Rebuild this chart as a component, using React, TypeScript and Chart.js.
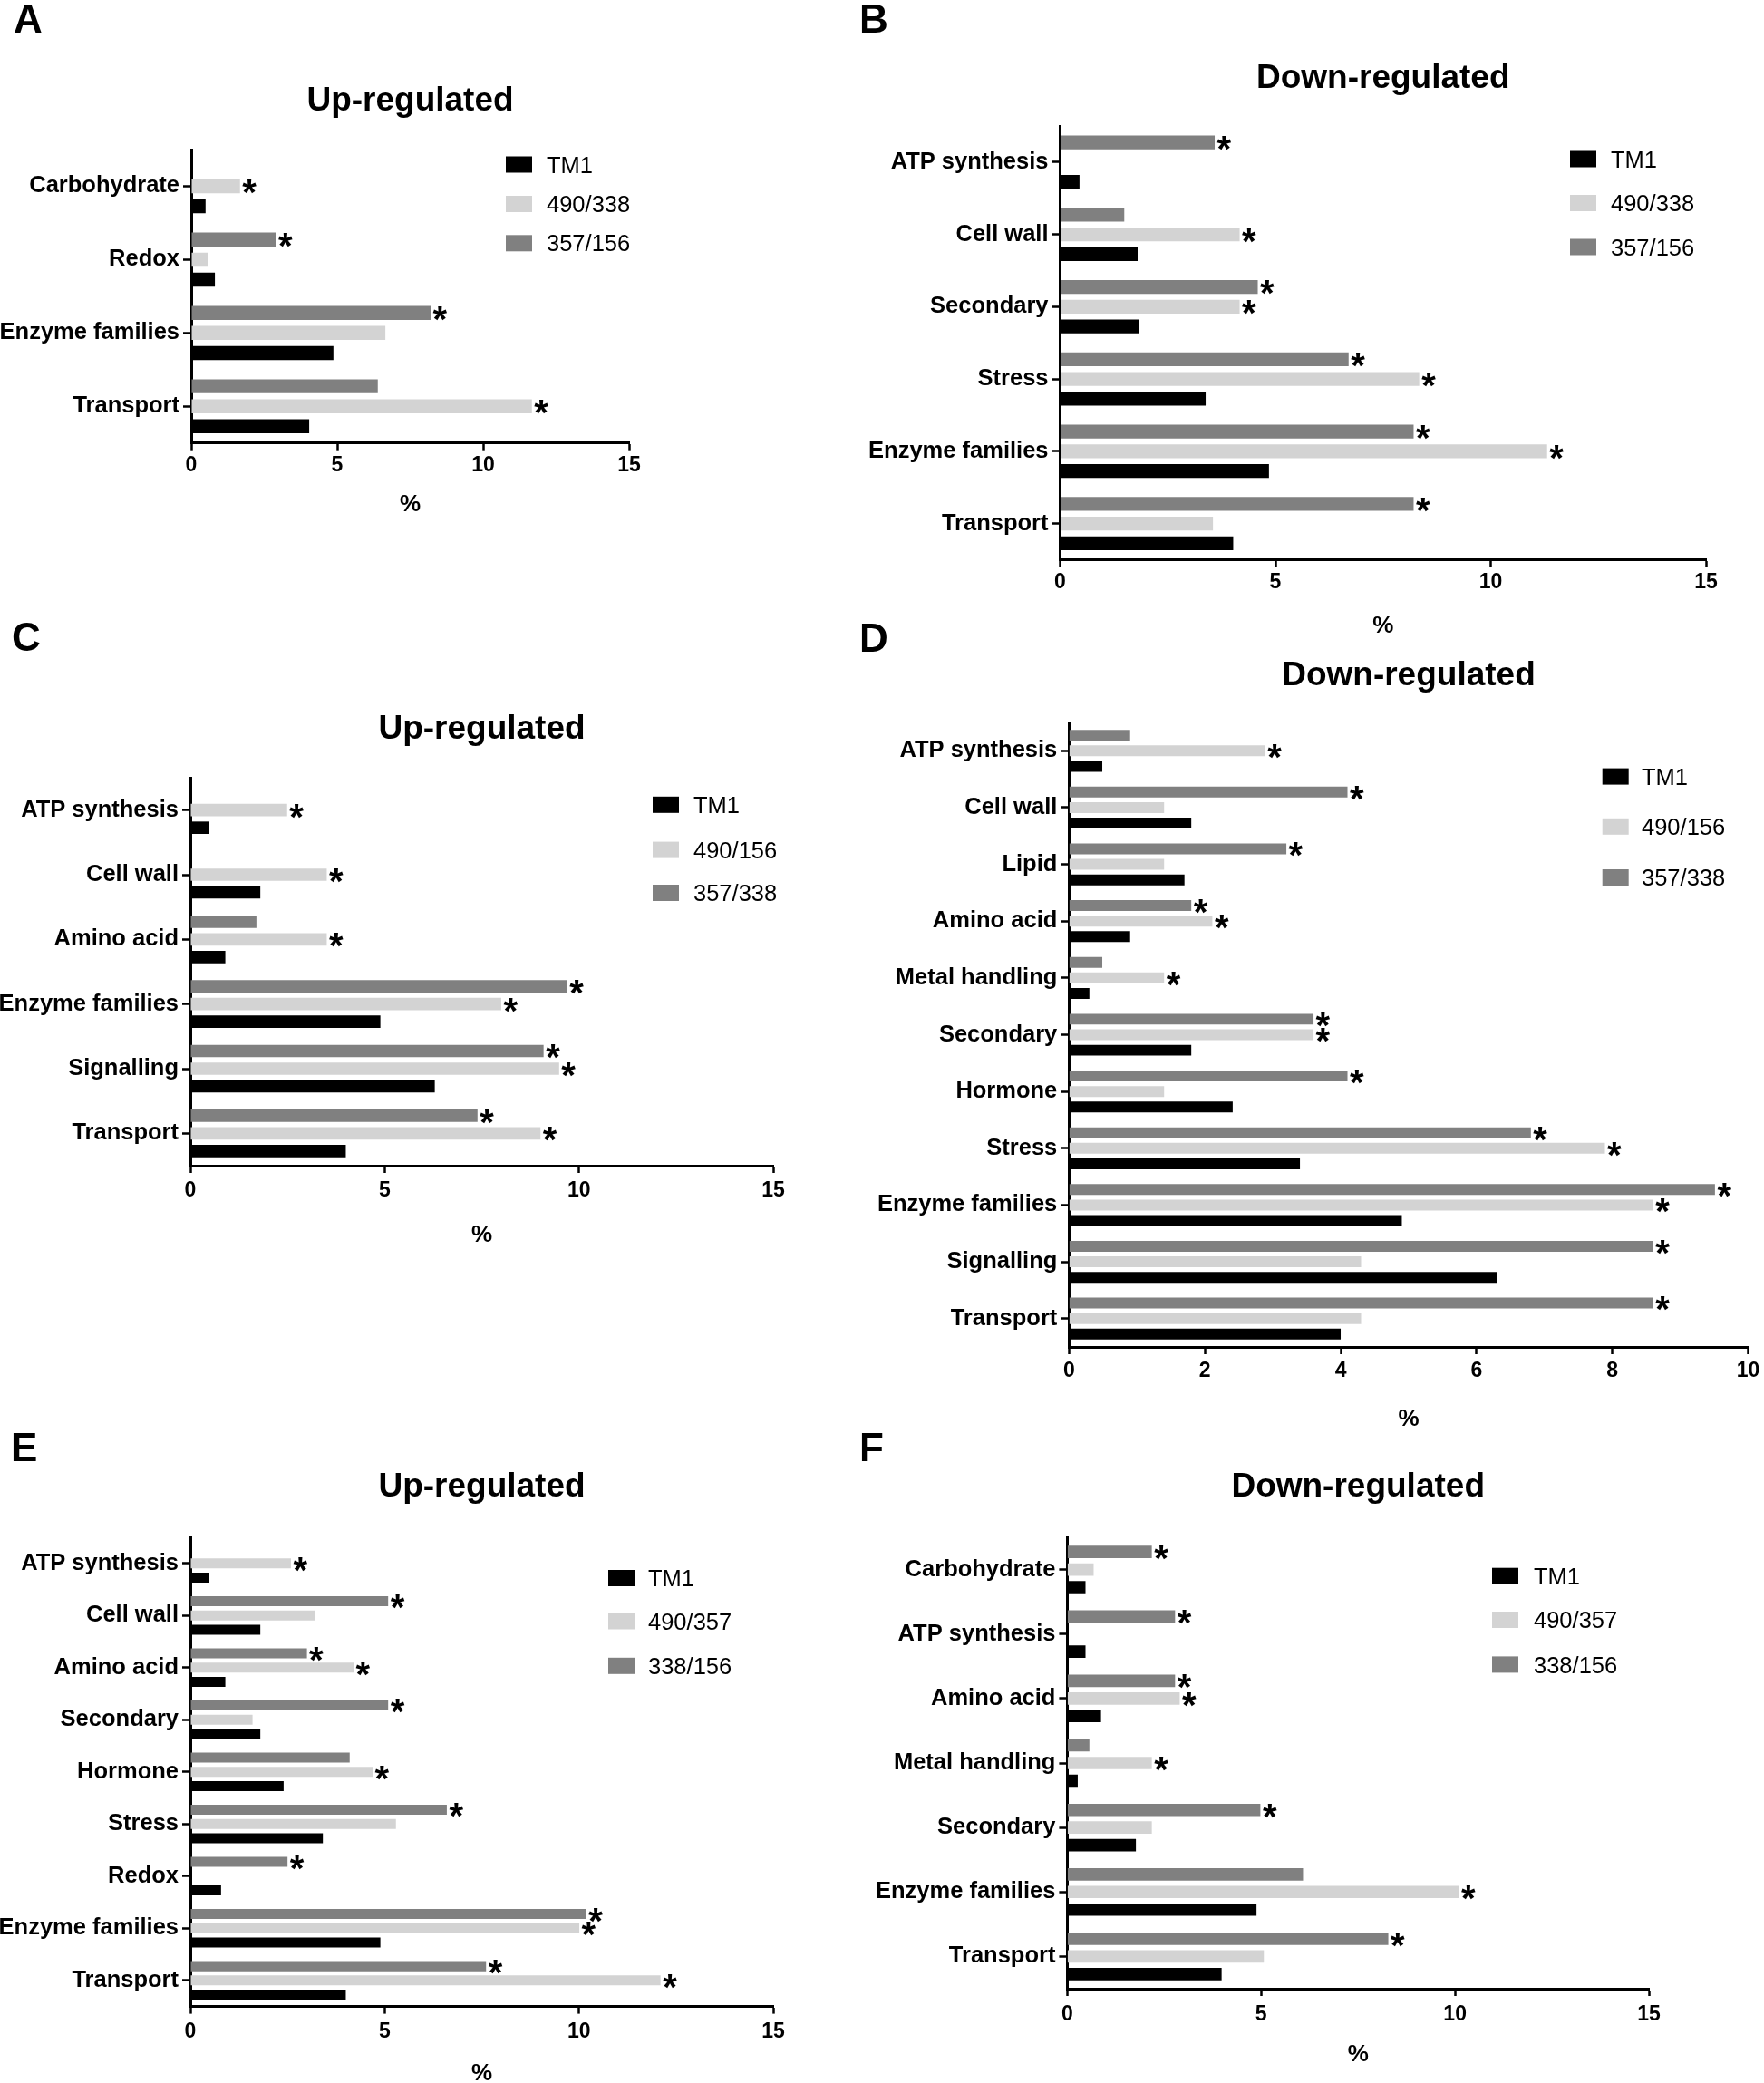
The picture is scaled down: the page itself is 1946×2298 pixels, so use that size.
import React, { useEffect, useRef } from 'react';
import { Chart, registerables } from 'chart.js';

Chart.register(...registerables);

const FONT = "'Liberation Sans', Arial, Helvetica, sans-serif";
const COLOR_TM1 = '#000000';
const COLOR_LIGHT = '#d3d3d3';
const COLOR_GREY = '#808080';

// ---------------- Panel A (Up-regulated) ----------------
const catsA = ['Carbohydrate', 'Redox', 'Enzyme families', 'Transport'];
const legendA = ['TM1', '490/338', '357/156'];
const tm1A = [0.49, 0.81, 4.87, 4.04];
const lightA = [1.67, 0.56, 6.65, 11.67];
const greyA = [null, 2.9, 8.2, 6.39];
const starLightA = [true, false, false, true];
const starGreyA = [false, true, true, false];

// ---------------- Panel B (Down-regulated) ----------------
const catsB = ['ATP synthesis', 'Cell wall', 'Secondary', 'Stress', 'Enzyme families', 'Transport'];
const legendB = ['TM1', '490/338', '357/156'];
const tm1B = [0.45, 1.8, 1.84, 3.38, 4.85, 4.02];
const lightB = [null, 4.17, 4.17, 8.34, 11.31, 3.55];
const greyB = [3.59, 1.49, 4.59, 6.7, 8.21, 8.21];
const starLightB = [false, true, true, true, true, false];
const starGreyB = [true, false, true, true, true, true];

// ---------------- Panel C (Up-regulated) ----------------
const catsC = ['ATP synthesis', 'Cell wall', 'Amino acid', 'Enzyme families', 'Signalling', 'Transport'];
const legendC = ['TM1', '490/156', '357/338'];
const tm1C = [0.49, 1.8, 0.9, 4.89, 6.29, 4.0];
const lightC = [2.49, 3.51, 3.51, 8.0, 9.49, 9.01];
const greyC = [null, null, 1.7, 9.7, 9.09, 7.39];
const starLightC = [true, true, true, true, true, true];
const starGreyC = [false, false, false, true, true, true];

// ---------------- Panel D (Down-regulated) ----------------
const catsD = ['ATP synthesis', 'Cell wall', 'Lipid', 'Amino acid', 'Metal handling', 'Secondary', 'Hormone', 'Stress', 'Enzyme families', 'Signalling', 'Transport'];
const legendD = ['TM1', '490/156', '357/338'];
const tm1D = [0.49, 1.8, 1.7, 0.9, 0.3, 1.8, 2.41, 3.4, 4.9, 6.3, 4.0];
const lightD = [2.89, 1.4, 1.4, 2.11, 1.4, 3.6, 1.4, 7.89, 8.6, 4.3, 4.3];
const greyD = [0.9, 4.1, 3.2, 1.8, 0.49, 3.6, 4.1, 6.8, 9.51, 8.6, 8.6];
const starLightD = [true, false, false, true, true, true, false, true, true, false, false];
const starGreyD = [false, true, true, true, false, true, true, true, true, true, true];

// ---------------- Panel E (Up-regulated) ----------------
const catsE = ['ATP synthesis', 'Cell wall', 'Amino acid', 'Secondary', 'Hormone', 'Stress', 'Redox', 'Enzyme families', 'Transport'];
const legendE = ['TM1', '490/357', '338/156'];
const tm1E = [0.49, 1.8, 0.9, 1.8, 2.4, 3.41, 0.79, 4.89, 4.0];
const lightE = [2.59, 3.2, 4.2, 1.6, 4.69, 5.29, null, 10.01, 12.1];
const greyE = [null, 5.09, 3.0, 5.09, 4.1, 6.6, 2.5, 10.19, 7.61];
const starLightE = [true, false, true, false, true, false, false, true, true];
const starGreyE = [false, true, true, true, false, true, true, true, true];

// ---------------- Panel F (Down-regulated) ----------------
const catsF = ['Carbohydrate', 'ATP synthesis', 'Amino acid', 'Metal handling', 'Secondary', 'Enzyme families', 'Transport'];
const legendF = ['TM1', '490/357', '338/156'];
const tm1F = [0.47, 0.47, 0.87, 0.27, 1.77, 4.88, 3.98];
const lightF = [0.68, null, 2.9, 2.18, 2.18, 10.1, 5.07];
const greyF = [2.18, 2.78, 2.78, 0.57, 4.98, 6.08, 8.28];
const starLightF = [false, false, true, true, false, true, false];
const starGreyF = [true, true, true, false, true, false, true];

const xTicksMax15 = { max: 15, step: 5 };
const xTicksMax10 = { max: 10, step: 2 };

// layout geometry (page pixels)
const panels: any[] = [
  {
    id: 'A', title: 'Up-regulated', cats: catsA, legend: legendA, tm1: tm1A, light: lightA, grey: greyA,
    starLight: starLightA, starGrey: starGreyA, axis: xTicksMax15,
    box: { x: 0, y: 0, w: 940, h: 590 },
    plot: { left: 211, right: 694, top: 165, bottom: 488.7 },
    pctY: 557, tickY: 513.5, titleY: 122, letter: { x: 15, y: 36 },
    leg: { x: 558, tx: 603, ys: [181.5, 225, 268.3] },
  },
  {
    id: 'B', title: 'Down-regulated', cats: catsB, legend: legendB, tm1: tm1B, light: lightB, grey: greyB,
    starLight: starLightB, starGrey: starGreyB, axis: xTicksMax15,
    box: { x: 940, y: 0, w: 1006, h: 720 },
    plot: { left: 1169.5, right: 1882, top: 139, bottom: 617.5 },
    pctY: 691, tickY: 643, titleY: 97, letter: { x: 948, y: 36 },
    leg: { x: 1732, tx: 1777, ys: [175.5, 224, 272.5] },
  },
  {
    id: 'C', title: 'Up-regulated', cats: catsC, legend: legendC, tm1: tm1C, light: lightC, grey: greyC,
    starLight: starLightC, starGrey: starGreyC, axis: xTicksMax15,
    box: { x: 0, y: 670, w: 940, h: 710 },
    plot: { left: 210, right: 853, top: 858, bottom: 1286 },
    pctY: 1363, tickY: 1314, titleY: 815, letter: { x: 13, y: 718 },
    leg: { x: 720, tx: 765, ys: [887.8, 937.6, 985] },
  },
  {
    id: 'D', title: 'Down-regulated', cats: catsD, legend: legendD, tm1: tm1D, light: lightD, grey: greyD,
    starLight: starLightD, starGrey: starGreyD, axis: xTicksMax10,
    box: { x: 940, y: 670, w: 1006, h: 920 },
    plot: { left: 1179.3, right: 1931.3, top: 797, bottom: 1486 },
    pctY: 1566, tickY: 1512.4, titleY: 756, letter: { x: 948, y: 718.5 },
    leg: { x: 1767.7, tx: 1811, ys: [856.6, 911.8, 968] },
  },
  {
    id: 'E', title: 'Up-regulated', cats: catsE, legend: legendE, tm1: tm1E, light: lightE, grey: greyE,
    starLight: starLightE, starGrey: starGreyE, axis: xTicksMax15,
    box: { x: 0, y: 1570, w: 940, h: 728 },
    plot: { left: 210, right: 853, top: 1696, bottom: 2213.6 },
    pctY: 2288, tickY: 2242, titleY: 1651, letter: { x: 12, y: 1612 },
    leg: { x: 671, tx: 715, ys: [1741, 1788.5, 1837.8] },
  },
  {
    id: 'F', title: 'Down-regulated', cats: catsF, legend: legendF, tm1: tm1F, light: lightF, grey: greyF,
    starLight: starLightF, starGrey: starGreyF, axis: xTicksMax15,
    box: { x: 940, y: 1570, w: 1006, h: 728 },
    plot: { left: 1177.4, right: 1819, top: 1696, bottom: 2194 },
    pctY: 2266.7, tickY: 2223, titleY: 1651, letter: { x: 948, y: 1612 },
    leg: { x: 1646, tx: 1692, ys: [1738.7, 1787, 1836.4] },
  },
];

const TICK_FONT = 23;
const CAT_FONT = 25.5;
const PCT_FONT = 26;
const X_TICK_LEN = 8;
const STAR_FONT = 40;

function decorPlugin(p: any) {
  return {
    id: 'decor' + p.id,
    afterDatasetsDraw(chart: any) {
      const ctx = chart.ctx;
      const bx = p.box.x;
      const by = p.box.y;
      ctx.save();
      // significance asterisks
      ctx.fillStyle = '#000';
      ctx.textAlign = 'left';
      ctx.textBaseline = 'alphabetic';
      ctx.font = `bold ${STAR_FONT}px ${FONT}`;
      const starSets = [p.starGrey, p.starLight];
      starSets.forEach((arr: boolean[], di: number) => {
        const meta = chart.getDatasetMeta(di);
        arr.forEach((s: boolean, j: number) => {
          if (!s) return;
          const bar = meta.data[j];
          if (!bar) return;
          ctx.fillText('*', bar.x + 2.5, bar.y - 1.5 + 0.56 * STAR_FONT);
        });
      });
      // title
      const ca = chart.chartArea;
      ctx.textAlign = 'center';
      ctx.font = `bold 37px ${FONT}`;
      ctx.fillText(p.title, (ca.left + ca.right) / 2, p.titleY - by);
      // panel letter
      ctx.textAlign = 'left';
      ctx.font = `bold 44px ${FONT}`;
      ctx.fillText(p.id, p.letter.x - bx, p.letter.y - by);
      // legend
      const cols = [COLOR_TM1, COLOR_LIGHT, COLOR_GREY];
      ctx.font = `25.5px ${FONT}`;
      p.legend.forEach((name: string, k: number) => {
        const cy = p.leg.ys[k] - by;
        ctx.fillStyle = cols[k];
        ctx.fillRect(p.leg.x - bx, cy - 9, 29, 18);
        ctx.fillStyle = '#000';
        ctx.fillText(name, p.leg.tx - bx, cy + 0.358 * 25.5);
      });
      ctx.restore();
    },
  };
}

function buildConfig(p: any): any {
  const yW = p.plot.left - p.box.x;
  const xH = p.box.y + p.box.h - p.plot.bottom;
  const tickPad = p.tickY - p.plot.bottom - X_TICK_LEN - (TICK_FONT * 1.2) / 2;
  const pctPadBottom = p.box.y + p.box.h - p.pctY - (PCT_FONT * 1.2) / 2;
  return {
    type: 'bar',
    data: {
      labels: p.cats,
      datasets: [
        { label: p.legend[2], data: p.grey, backgroundColor: COLOR_GREY, borderWidth: 0 },
        { label: p.legend[1], data: p.light, backgroundColor: COLOR_LIGHT, borderWidth: 0 },
        { label: p.legend[0], data: p.tm1, backgroundColor: COLOR_TM1, borderWidth: 0 },
      ],
    },
    options: {
      indexAxis: 'y',
      responsive: false,
      maintainAspectRatio: false,
      animation: false,
      devicePixelRatio: 1,
      datasets: { bar: { categoryPercentage: 0.82, barPercentage: 0.7 } },
      layout: {
        padding: {
          left: 0,
          top: p.plot.top - p.box.y,
          right: p.box.x + p.box.w - p.plot.right,
          bottom: 0,
        },
      },
      plugins: {
        legend: { display: false },
        title: { display: false },
        tooltip: { enabled: false },
      },
      scales: {
        x: {
          type: 'linear',
          position: 'bottom',
          min: 0,
          max: p.axis.max,
          ticks: {
            stepSize: p.axis.step,
            autoSkip: false,
            maxRotation: 0,
            color: '#000',
            padding: tickPad,
            font: { family: FONT, size: TICK_FONT, weight: 'bold' },
          },
          grid: {
            display: true,
            drawOnChartArea: false,
            drawTicks: true,
            tickLength: X_TICK_LEN,
            tickWidth: 2.5,
            tickColor: '#000',
          },
          border: { display: true, color: '#000', width: 3 },
          title: {
            display: true,
            text: '%',
            color: '#000',
            font: { family: FONT, size: PCT_FONT, weight: 'bold' },
            padding: { top: 0, bottom: pctPadBottom },
          },
          afterFit: (s: any) => { s.height = xH; },
        },
        y: {
          type: 'category',
          offset: true,
          ticks: {
            autoSkip: false,
            color: '#000',
            padding: 4,
            font: { family: FONT, size: CAT_FONT, weight: 'bold' },
          },
          grid: {
            display: true,
            offset: false,
            drawOnChartArea: false,
            drawTicks: true,
            tickLength: 9,
            tickWidth: 2.5,
            tickColor: '#000',
          },
          border: { display: true, color: '#000', width: 3 },
          afterFit: (s: any) => { s.width = yW; },
        },
      },
    },
    plugins: [decorPlugin(p)],
  };
}

function PanelChart({ p }: { p: any }) {
  const ref = useRef<HTMLCanvasElement | null>(null);
  useEffect(() => {
    const canvas = ref.current;
    if (!canvas) return;
    const chart = new Chart(canvas, buildConfig(p));
    return () => chart.destroy();
  }, [p]);
  return (
    <canvas
      ref={ref}
      width={p.box.w}
      height={p.box.h}
      style={{ position: 'absolute', left: p.box.x, top: p.box.y, width: p.box.w, height: p.box.h }}
    />
  );
}

export default function App() {
  return (
    <div style={{ position: 'absolute', left: 0, top: 0, width: 1946, height: 2298, background: '#fff', overflow: 'hidden' }}>
      {panels.map((p) => (
        <PanelChart key={p.id} p={p} />
      ))}
    </div>
  );
}
